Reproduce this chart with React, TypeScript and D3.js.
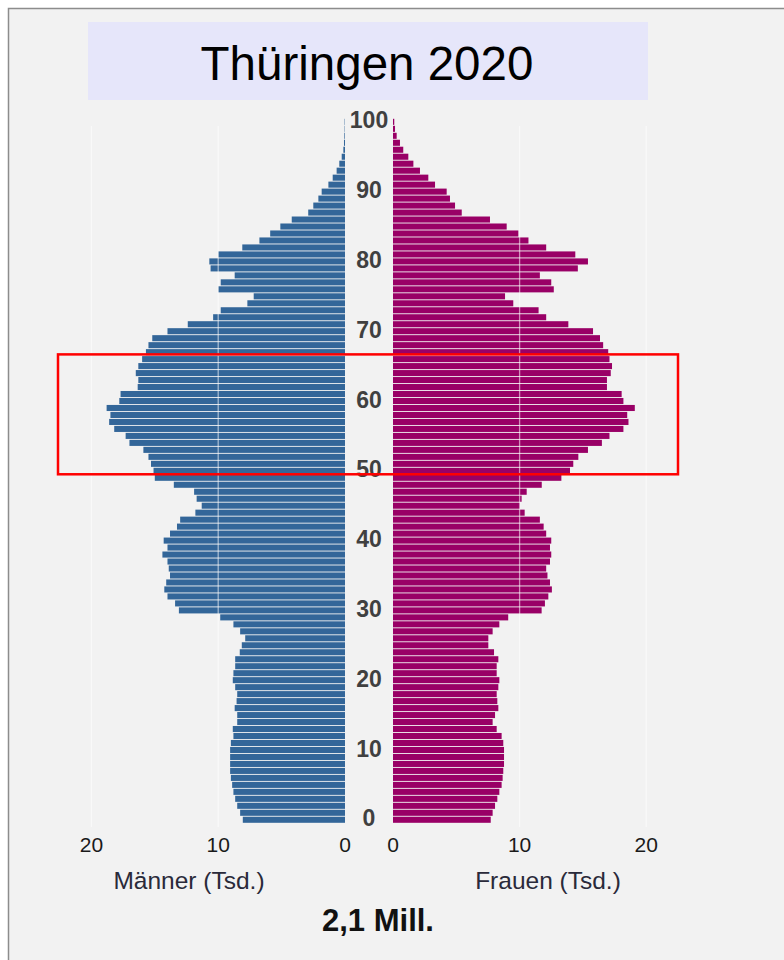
import { useEffect, useRef } from 'react';
import * as d3 from 'd3';

// Bevölkerung in Tausend, Index = Alter (0 ... 100)
const maleValues = [
  8.06, 8.27, 8.5, 8.66, 8.8, 8.9, 9.0, 9.06, 9.06, 9.06,
  9.06, 9.0, 8.8, 8.85, 8.5, 8.5, 8.7, 8.55, 8.5, 8.66,
  8.85, 8.8, 8.66, 8.66, 8.3, 8.14, 7.87, 8.27, 8.8, 9.84,
  13.1, 13.4, 14.0, 14.25, 14.1, 13.8, 13.9, 14.0, 14.4, 14.0,
  14.3, 13.8, 13.25, 13.0, 11.8, 11.3, 11.7, 11.9, 13.5, 15.0,
  15.1, 15.3, 15.5, 15.9, 17.0, 17.3, 18.2, 18.6, 18.5, 18.8,
  17.8, 17.7, 16.35, 16.3, 16.5, 16.3, 16.0, 15.7, 15.5, 15.2,
  14.0, 12.4, 10.4, 9.8, 7.7, 7.2, 10.0, 9.8, 8.7, 10.6,
  10.7, 10.0, 8.1, 6.75, 5.9, 5.1, 4.2, 2.9, 2.5, 2.1,
  1.84, 1.31, 0.97, 0.66, 0.45, 0.26, 0.13, 0.08, 0.05, 0.03,
  0.03,
];

const femaleValues = [
  7.72, 7.87, 8.06, 8.24, 8.4, 8.58, 8.66, 8.71, 8.77, 8.77,
  8.77, 8.71, 8.58, 8.19, 7.87, 8.06, 8.32, 8.24, 8.19, 8.32,
  8.4, 8.19, 8.19, 8.32, 7.98, 7.53, 7.53, 7.87, 8.4, 9.1,
  11.74, 12.0, 12.27, 12.55, 12.4, 12.2, 12.1, 12.4, 12.5, 12.4,
  12.5, 12.1, 11.9, 11.6, 10.4, 10.03, 10.16, 10.56, 11.75, 13.3,
  13.98, 14.24, 14.64, 15.4, 16.5, 17.1, 18.2, 18.6, 18.5, 19.1,
  18.2, 18.06, 16.9, 16.9, 17.2, 17.3, 17.1, 17.0, 16.6, 16.35,
  15.8, 13.85, 12.1, 11.5, 9.5, 8.85, 12.7, 12.5, 11.6, 14.6,
  15.4, 14.4, 12.1, 10.7, 9.9, 8.98, 7.66, 5.43, 4.9, 4.5,
  4.24, 3.32, 2.79, 2.13, 1.61, 1.21, 0.81, 0.55, 0.29, 0.16,
  0.1,
];

const ages = d3.range(0, 101);
const ageTicks = [0, 10, 20, 30, 40, 50, 60, 70, 80, 90, 100];
const valueTicks = [0, 10, 20];

// markierter Altersbereich (rote Box)
const highlightAges = [49.5, 66.7];

const title = 'Thüringen 2020';
const maleLabel = 'Männer (Tsd.)';
const femaleLabel = 'Frauen (Tsd.)';
const totalLabel = '2,1 Mill.';

const WIDTH = 784;
const HEIGHT = 960;
const FONT = '"Liberation Sans", Arial, sans-serif';

export default function App() {
  const svgRef = useRef<SVGSVGElement>(null);

  useEffect(() => {
    if (!svgRef.current) return;
    const svg = d3.select(svgRef.current);
    svg.selectAll('*').remove();

    // Rahmen + Hintergrund
    svg.append('rect')
      .attr('x', 8.5).attr('y', 8.5)
      .attr('width', 900).attr('height', 1100)
      .attr('fill', '#f2f2f2')
      .attr('stroke', '#8c8c8c')
      .attr('stroke-width', 1.5);

    // Titel
    svg.append('rect')
      .attr('x', 88).attr('y', 22)
      .attr('width', 560).attr('height', 78)
      .attr('fill', '#e6e6fa');
    svg.append('text')
      .attr('x', 367).attr('y', 80)
      .attr('text-anchor', 'middle')
      .attr('font-family', FONT)
      .attr('font-size', 47.5)
      .attr('fill', '#000')
      .text(title);

    const y = d3.scaleBand<number>()
      .domain(ages)
      .range([822.8, 118.8])
      .paddingInner(0.13);

    // kontinuierliche Altersachse für die Markierung
    const yAge = d3.scaleLinear().domain([-0.5, 100.5]).range([822.8, 118.8]);

    const xMale = d3.scaleLinear().domain([0, 20]).range([345, 91.4]);
    const xFemale = d3.scaleLinear().domain([0, 20]).range([393, 646.2]);

    // Balken
    svg.append('g')
      .selectAll('rect')
      .data(ages)
      .join('rect')
      .attr('x', d => xMale(maleValues[d]))
      .attr('y', d => y(d)!)
      .attr('width', d => xMale(0) - xMale(maleValues[d]))
      .attr('height', y.bandwidth())
      .attr('fill', '#336699');

    svg.append('g')
      .selectAll('rect')
      .data(ages)
      .join('rect')
      .attr('x', xFemale(0))
      .attr('y', d => y(d)!)
      .attr('width', d => xFemale(femaleValues[d]) - xFemale(0))
      .attr('height', y.bandwidth())
      .attr('fill', '#990066');

    // Gitterlinien über den Balken
    const gridTop = 126;
    const gridBottom = 827;
    const grid = svg.append('g')
      .attr('stroke', '#ffffff')
      .attr('stroke-opacity', 0.55)
      .attr('stroke-width', 1.3);
    valueTicks.filter(t => t > 0).forEach(t => {
      grid.append('line')
        .attr('x1', xMale(t)).attr('x2', xMale(t))
        .attr('y1', gridTop).attr('y2', gridBottom);
      grid.append('line')
        .attr('x1', xFemale(t)).attr('x2', xFemale(t))
        .attr('y1', gridTop).attr('y2', gridBottom);
    });

    // Altersbeschriftung
    svg.append('g')
      .selectAll('text')
      .data(ageTicks)
      .join('text')
      .attr('x', 369)
      .attr('y', d => y(d)! + y.bandwidth() / 2 - 1.5)
      .attr('dy', '0.35em')
      .attr('text-anchor', 'middle')
      .attr('font-family', FONT)
      .attr('font-weight', 'bold')
      .attr('font-size', 23)
      .attr('fill', '#404040')
      .text(d => d);

    // rote Markierung
    svg.append('rect')
      .attr('x', 58)
      .attr('y', yAge(highlightAges[1]))
      .attr('width', 620)
      .attr('height', yAge(highlightAges[0]) - yAge(highlightAges[1]))
      .attr('fill', 'none')
      .attr('stroke', '#ff0000')
      .attr('stroke-width', 2.5);

    // Werteachsen
    const tickY = 852;
    const ticks = svg.append('g')
      .attr('font-family', FONT)
      .attr('font-size', 21)
      .attr('fill', '#1a1a1a')
      .attr('text-anchor', 'middle');
    valueTicks.forEach(t => {
      ticks.append('text').attr('x', xMale(t)).attr('y', tickY).text(t);
      ticks.append('text').attr('x', xFemale(t)).attr('y', tickY).text(t);
    });

    const labels = svg.append('g')
      .attr('font-family', FONT)
      .attr('font-size', 24.5)
      .attr('fill', '#2a2a3a')
      .attr('text-anchor', 'middle');
    labels.append('text').attr('x', 189).attr('y', 889).text(maleLabel);
    labels.append('text').attr('x', 548).attr('y', 889).text(femaleLabel);

    svg.append('text')
      .attr('x', 378).attr('y', 931)
      .attr('text-anchor', 'middle')
      .attr('font-family', FONT)
      .attr('font-weight', 'bold')
      .attr('font-size', 31)
      .attr('fill', '#111')
      .text(totalLabel);
  }, []);

  return (
    <svg
      ref={svgRef}
      width={WIDTH}
      height={HEIGHT}
      style={{ position: 'absolute', left: 0, top: 0, background: '#fff' }}
    />
  );
}
